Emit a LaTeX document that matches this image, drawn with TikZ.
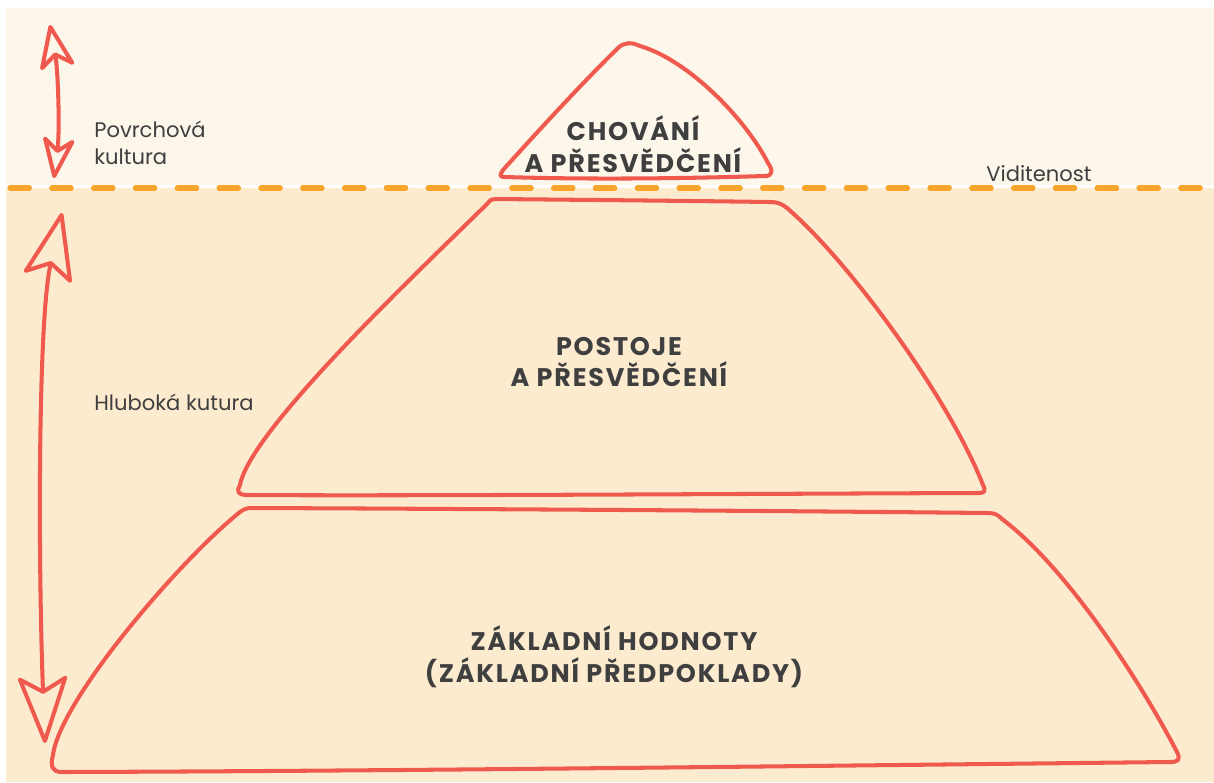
\documentclass[tikz,border=0pt]{standalone}
\usepackage{fontspec}
\setmainfont{Poppins}
\newfontfamily\headfont[LetterSpace=7]{Poppins}
\usetikzlibrary{arrows.meta}

\definecolor{surfacebg}{HTML}{FDF6EB}
\definecolor{deepbg}{HTML}{FDEBD0}
\definecolor{pyrared}{HTML}{F05A4E}
\definecolor{waterorange}{HTML}{F8A52E}
\definecolor{textgray}{HTML}{3F3F3F}

\begin{document}
\begin{tikzpicture}[x=0.02cm, y=-0.02cm, font=\fontsize{12}{15.3}\selectfont, text=textgray]
		\tikzstyle{outline} = [draw=pyrared, line width=2.3pt, line join=round]
		
		\tikzstyle{heading} = [font=\headfont\fontsize{14.5}{18}\selectfont\bfseries, align=center, inner sep=0pt]
		
		\tikzstyle{caption} = [align=left, anchor=west, inner sep=0pt]
		
		\tikzstyle{waterline} = [draw=waterorange, line width=3pt, line cap=round, dash pattern=on 11pt off 12.8pt]
		
		\tikzstyle{surfacearrow} = [outline, {Stealth[open, round, length=1cm, width=0.78cm, inset=0.28cm]}-{Stealth[open, round, length=0.95cm, width=0.72cm, inset=0.28cm]}]
		\tikzstyle{deeparrow} = [outline, {Stealth[open, round, length=1.45cm, width=1.05cm, inset=0.3cm]}-{Stealth[open, round, length=1.45cm, width=1.05cm, inset=0.3cm]}]
		
		% Background bands
		\useasboundingbox (0,0) rectangle (1214,782);
		\fill[white] (0,0) rectangle (1214,782);
		\fill[surfacebg] (6,8) rectangle (1214,185);
		\fill[deepbg] (6,188) rectangle (1214,782);
		\draw[waterline] (10,188) -- (1214,188);
		
		% Pyramid layers
		\draw[outline] (505,177) .. controls (600,180) and (700,178) .. (765,176)
			.. controls (773,176) and (773,170) .. (768,163)
			.. controls (745,118) and (688,60) .. (640,46)
			.. controls (632,42) and (624,42) .. (618,48)
			.. controls (580,85) and (530,140) .. (503,170)
			.. controls (499,176) and (500,177) .. (505,177) -- cycle;
		\draw[outline] (495,199) .. controls (600,200) and (700,201) .. (770,202)
			.. controls (778,202) and (782,204) .. (787,208)
			.. controls (850,262) and (950,400) .. (983,485)
			.. controls (986,491) and (985,493) .. (978,493)
			.. controls (700,494) and (400,496) .. (248,495)
			.. controls (238,495) and (236,492) .. (240,485)
			.. controls (250,430) and (420,270) .. (488,203)
			.. controls (490,200) and (492,199) .. (495,199) -- cycle;
		\draw[outline] (252,508) .. controls (500,509) and (800,511) .. (988,513)
			.. controls (995,513) and (998,515) .. (1002,519)
			.. controls (1070,570) and (1145,690) .. (1177,752)
			.. controls (1181,760) and (1178,762) .. (1170,762)
			.. controls (800,766) and (400,771) .. (62,772)
			.. controls (52,772) and (50,766) .. (53,755)
			.. controls (60,700) and (180,560) .. (240,512)
			.. controls (244,509) and (247,508) .. (252,508) -- cycle;
		
		% Layer texts
		\node (chovani) [heading] at (633,144) {CHOVÁNÍ\\A PŘESVĚDČENÍ};
		\node (postoje) [heading] at (619,362) {POSTOJE\\A PŘESVĚDČENÍ};
		\node (hodnoty) [heading] at (614,657) {ZÁKLADNÍ HODNOTY\\(ZÁKLADNÍ PŘEDPOKLADY)};
		
		% Side texts
		\node (povrchova) [caption] at (94,143) {Povrchová\\kultura};
		\node (hluboka) [caption] at (94,402) {Hluboká kutura};
		\node (viditelnost) [caption] at (986,174) {Viditenost};
		
		% Arrows
		\coordinate (surfacetop) at (50,25);
		\coordinate (surfacebottom) at (54,178);
		\coordinate (deeptop) at (62,213);
		\coordinate (deepbottom) at (45,743);
		\draw[surfacearrow] (surfacetop) .. controls (58,70) and (60,130) .. (surfacebottom);
		\draw[deeparrow] (deeptop) .. controls (38,320) and (38,560) .. (deepbottom);
		
\end{tikzpicture}
\end{document}
